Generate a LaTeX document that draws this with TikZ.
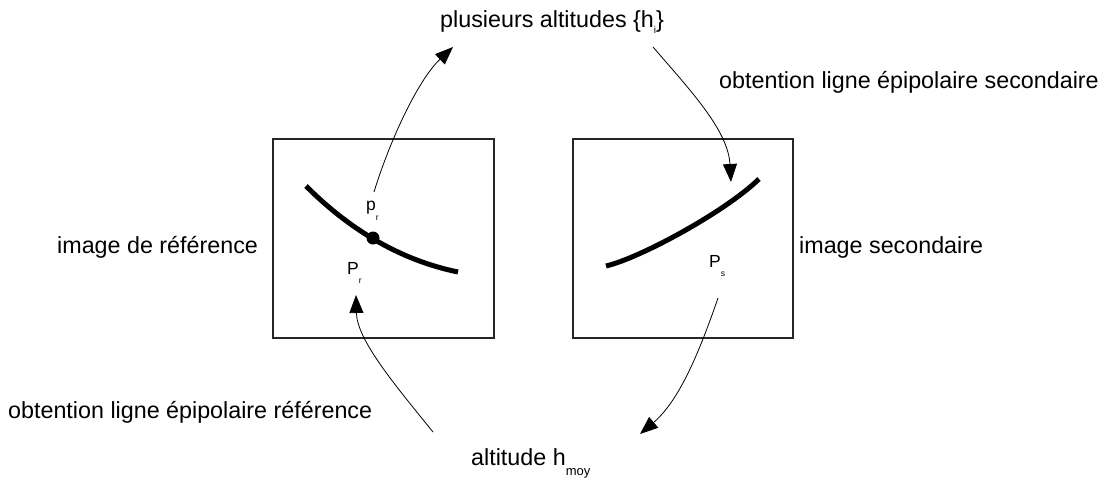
\documentclass[tikz,border=0pt]{standalone}
\usepackage{fontspec}
\setmainfont{Liberation Sans}
\usetikzlibrary{arrows.meta}
\tikzset{
  lbl/.style={anchor=base west, inner sep=0pt, font=\fontsize{23.3}{28}\selectfont},
  inlbl/.style={anchor=base west, inner sep=0pt, font=\fontsize{17.5}{20}\selectfont},
  imgbox/.style={draw=black!85, line width=1.1pt, inner sep=0pt},
  epi/.style={line width=5pt, line cap=butt},
  conn/.style={line width=0.8pt, -{Triangle[length=18pt,width=14pt]}},
}
\newcommand{\sbs}[3]{\raisebox{-#2pt}{\fontsize{#1}{#1}\selectfont #3}}
\begin{document}
\begin{tikzpicture}[x=1pt,y=-1pt]
\useasboundingbox (0,0) rectangle (1117,482);
% boxes
\node[imgbox, minimum width=221pt, minimum height=199pt] (lbox) at (383.5,238.5) {};
\node[imgbox, minimum width=220pt, minimum height=199pt] (rbox) at (683,238.5) {};
% epipolar lines
\draw[epi] (306,186) .. controls (340,220) and (390,258) .. (458,272);
\draw[epi] (606,266) .. controls (640,258) and (725,212) .. (759,179);
\node[circle, fill=black, minimum size=13pt, inner sep=0pt] (dot) at (373,238) {};
% labels
\node[lbl] (top) at (440,27) {plusieurs altitudes \{h\sbs{10}{6}{i}\}};
\node[lbl] (sec) at (719,88) {obtention ligne épipolaire secondaire};
\node[lbl] (iref) at (57,253) {image de référence};
\node[lbl] (isec) at (799,253) {image secondaire};
\node[lbl] (oref) at (8,418) {obtention ligne épipolaire référence};
\node[lbl] (alt) at (471,465) {altitude h\sbs{13}{10}{moy}};
\node[inlbl] (pr) at (366,210) {p\sbs{8.5}{10}{r}};
\node[inlbl] (Pr) at (347,274) {P\sbs{8.5}{9}{r}};
\node[inlbl] (Ps) at (709,267) {P\sbs{8.5}{9}{s}};
% connector endpoints
\coordinate (a1s) at (374,192);
\coordinate (a1e) at (453,47);
\coordinate (a2s) at (653,47);
\coordinate (a2e) at (731,182);
\coordinate (a3s) at (718,298);
\coordinate (a3e) at (640,434);
\coordinate (a4s) at (433,432);
\coordinate (a4e) at (356,295);
% connectors
\draw[conn] (a1s) .. controls (390,140) and (418,80) .. (a1e);
\draw[conn] (a2s) .. controls (690,90) and (728,130) .. (a2e);
\draw[conn] (a3s) .. controls (700,350) and (680,400) .. (a3e);
\draw[conn] (a4s) .. controls (395,385) and (357,340) .. (a4e);
\end{tikzpicture}
\end{document}
